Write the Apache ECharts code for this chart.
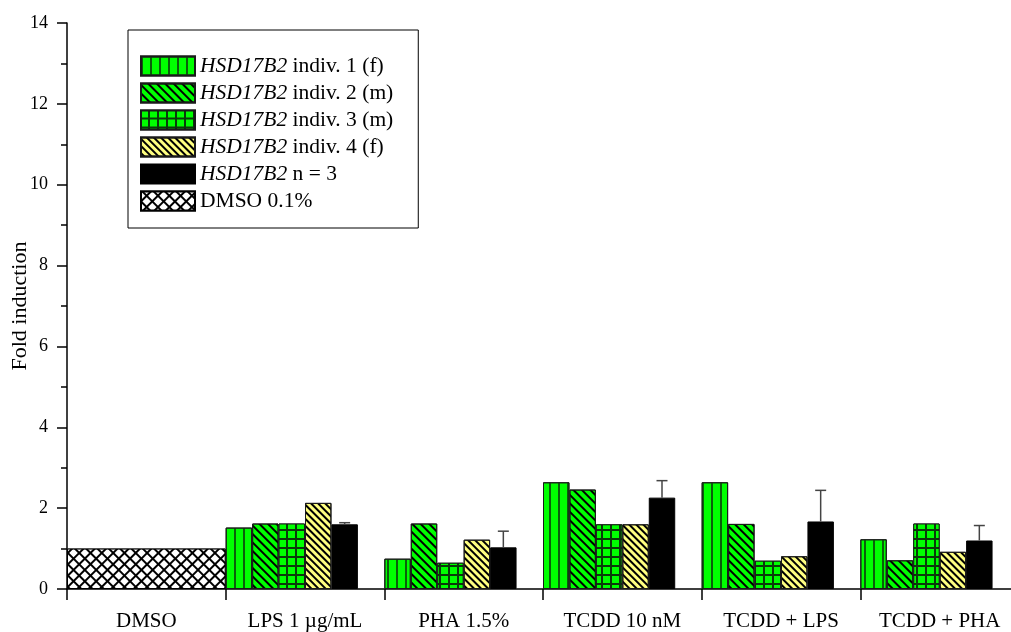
<!DOCTYPE html>
<html>
<head>
<meta charset="utf-8">
<script src="https://cdn.jsdelivr.net/npm/echarts@6/dist/echarts.min.js"></script>
<style>
  html, body { margin: 0; padding: 0; background: #ffffff; }
  #chart { width: 1011px; height: 632px; }
</style>
</head>
<body>
<div id="chart"></div>
<script>
// Treatments along the x axis
const categories = ['DMSO', 'LPS 1 µg/mL', 'PHA 1.5%', 'TCDD 10 nM', 'TCDD + LPS', 'TCDD + PHA'];

// Fold induction per donor (DMSO group shown by the vehicle bar only)
const indiv1 = ['-', 1.52, 0.75, 2.64, 2.64, 1.23];
const indiv2 = ['-', 1.62, 1.62, 2.46, 1.61, 0.71];
const indiv3 = ['-', 1.62, 0.65, 1.60, 0.70, 1.62];
const indiv4 = ['-', 2.13, 1.22, 1.60, 0.81, 0.92];
const meanN3 = ['-', 1.60, 1.03, 2.26, 1.67, 1.20];
const errN3  = ['-', 0.04, 0.40, 0.42, 0.77, 0.37];
const dmso   = [1.0, '-', '-', '-', '-', '-'];

// Y axis ticks
const yMin = 0, yMax = 14, yStep = 2;

const FONT = 'Liberation Serif';
const GREEN = '#00ff00';
const YELLOW = '#ffff80';
const EDGE = '#1a1a1a';

const seriesNames = [
  'HSD17B2 indiv. 1 (f)',
  'HSD17B2 indiv. 2 (m)',
  'HSD17B2 indiv. 3 (m)',
  'HSD17B2 indiv. 4 (f)',
  'HSD17B2 n = 3',
  'DMSO 0.1%'
];

const barBase = {
  type: 'bar',
  xAxisIndex: 0,
  barGap: '0%',
  barCategoryGap: '0%',
  emphasis: { disabled: true }
};

// error bars (upper whisker only) on the n = 3 bar, which sits in slot 5 of 6
const errData = categories.map((c, i) => [i, meanN3[i], errN3[i]]).filter(d => d[1] !== '-');

const option = {
  backgroundColor: '#ffffff',
  animation: false,
  textStyle: { fontFamily: FONT, color: '#000' },
  grid: { left: 67, top: 23, bottom: 43, right: -8, containLabel: false, outerBoundsMode: 'none' },
  legend: {
    orient: 'vertical',
    left: 128,
    top: 30,
    padding: [25, 25, 16, 12],
    borderColor: '#000',
    borderWidth: 1,
    itemWidth: 54,
    itemHeight: 19,
    itemGap: 5,
    icon: 'rect',
    selectedMode: false,
    data: seriesNames,
    textStyle: {
      fontFamily: FONT, fontSize: 21.5, color: '#000',
      rich: { i: { fontFamily: FONT, fontSize: 21.5, fontStyle: 'italic', color: '#000' } }
    },
    formatter: function (name) {
      if (name.indexOf('HSD17B2') === 0) return '{i|HSD17B2}' + name.slice(7);
      return name;
    }
  },
  xAxis: [
    {
      type: 'category',
      data: categories,
      boundaryGap: true,
      axisLine: { lineStyle: { color: '#000', width: 1.5 } },
      axisTick: { show: true, length: 11, lineStyle: { color: '#000', width: 1.5 } },
      axisLabel: { fontFamily: FONT, fontSize: 21, color: '#000', margin: 22 }
    },
    {
      type: 'category',
      data: categories,
      show: false
    }
  ],
  yAxis: {
    type: 'value',
    min: yMin, max: yMax, interval: yStep,
    name: 'Fold induction',
    nameLocation: 'middle',
    nameGap: 36,
    nameMoveOverlap: false,
    nameTextStyle: { fontFamily: FONT, fontSize: 22, color: '#000' },
    axisLine: { show: true, lineStyle: { color: '#000', width: 1.5 } },
    axisTick: { show: true, length: 10, lineStyle: { color: '#000', width: 1.5 } },
    minorTick: { show: true, splitNumber: 2, length: 6, lineStyle: { color: '#000', width: 1.5 } },
    splitLine: { show: false },
    axisLabel: { fontFamily: FONT, fontSize: 18, color: '#000', margin: 19 }
  },
  series: [
    Object.assign({}, barBase, {
      name: seriesNames[0], data: indiv1,
      itemStyle: {
        color: GREEN, borderColor: EDGE, borderWidth: 1,
        decal: { symbol: 'rect', symbolSize: 1, color: '#0b5e0b', dashArrayX: [1.5, 6.5], dashArrayY: [1, 0], rotation: 0 }
      }
    }),
    Object.assign({}, barBase, {
      name: seriesNames[1], data: indiv2,
      itemStyle: {
        color: GREEN, borderColor: EDGE, borderWidth: 1,
        decal: { symbol: 'rect', symbolSize: 1, color: '#000', dashArrayX: [1, 0], dashArrayY: [1.2, 3.6], rotation: Math.PI / 4 }
      }
    }),
    Object.assign({}, barBase, {
      name: seriesNames[2], data: indiv3,
      itemStyle: {
        color: '#0a3a0a', borderColor: EDGE, borderWidth: 1,
        decal: { symbol: 'rect', symbolSize: 1, color: GREEN, dashArrayX: [6.5, 1.5], dashArrayY: [6.5, 1.5], rotation: 0 }
      }
    }),
    Object.assign({}, barBase, {
      name: seriesNames[3], data: indiv4,
      itemStyle: {
        color: YELLOW, borderColor: EDGE, borderWidth: 1,
        decal: { symbol: 'rect', symbolSize: 1, color: '#000', dashArrayX: [1, 0], dashArrayY: [1.2, 3], rotation: Math.PI / 4 }
      }
    }),
    Object.assign({}, barBase, {
      name: seriesNames[4], data: meanN3,
      itemStyle: { color: '#000', borderColor: '#000', borderWidth: 1 }
    }),
    // empty sixth slot keeps the gap after each group of five bars
    Object.assign({}, barBase, {
      name: 'gap', data: categories.map(() => '-'),
      itemStyle: { color: 'transparent' }
    }),
    {
      type: 'bar',
      name: seriesNames[5],
      xAxisIndex: 1,
      data: dmso,
      barWidth: '100%',
      emphasis: { disabled: true },
      itemStyle: {
        color: '#000', borderColor: '#000', borderWidth: 1,
        decal: { symbol: 'rect', symbolSize: 1, color: '#fff', dashArrayX: [5.4, 1.4], dashArrayY: [5.4, 1.4], rotation: Math.PI / 4 }
      }
    },
    {
      type: 'custom',
      name: 'sem',
      xAxisIndex: 0,
      data: errData,
      encode: { x: 0, y: 1 },
      z: 5,
      renderItem: function (params, api) {
        const ci = api.value(0);
        const mean = api.value(1);
        const err = api.value(2);
        const base = api.coord([ci, mean]);
        const top = api.coord([ci, mean + err]);
        const w = api.size([1, 0])[0];
        const x = base[0] + w / 4;
        return {
          type: 'group',
          children: [
            { type: 'line', shape: { x1: x, y1: base[1], x2: x, y2: top[1] }, style: { stroke: '#444', lineWidth: 1.5 } },
            { type: 'line', shape: { x1: x - 5.5, y1: top[1], x2: x + 5.5, y2: top[1] }, style: { stroke: '#444', lineWidth: 1.5 } }
          ]
        };
      }
    }
  ]
};

const chart = echarts.init(document.getElementById('chart'), null, { renderer: 'canvas' });
chart.setOption(option);
</script>
</body>
</html>
